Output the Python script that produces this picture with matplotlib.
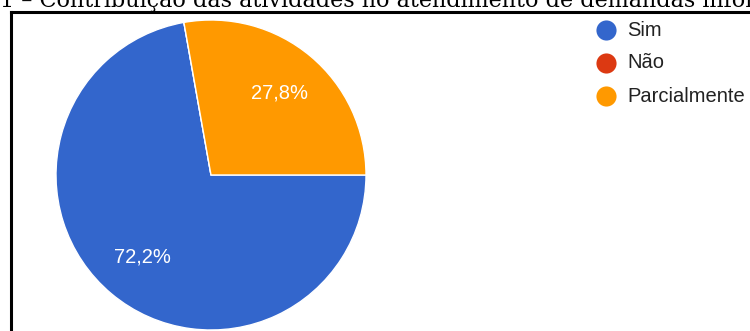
import matplotlib
matplotlib.use('Agg')
import matplotlib.pyplot as plt
from matplotlib.lines import Line2D

# dados do gráfico
categorias = ['Sim', 'Não', 'Parcialmente']
valores = [72.2, 0.0, 27.8]
cores = ['#3366cc', '#dc3912', '#ff9900']
titulo = '1 – Contribuição das atividades no atendimento de demandas informacionais'

plt.rcParams['font.family'] = ['Liberation Sans', 'DejaVu Sans']

fig = plt.figure(figsize=(7.5, 3.31), dpi=100)
W, H = 750, 331

# camada de fundo para moldura, título e legenda (coordenadas em pixels)
bg = fig.add_axes([0, 0, 1, 1])
bg.set_xlim(0, W)
bg.set_ylim(H, 0)
bg.axis('off')

# moldura preta (cortada à direita e embaixo)
bg.add_line(Line2D([11, 11], [H + 5, 11.5], color='black', lw=2.2))
bg.add_line(Line2D([11, W + 5], [11.5, 11.5], color='black', lw=2.2))

# título cortado no topo, como no original
bg.text(0, 6.5, titulo, family='DejaVu Serif', fontsize=16, color='black',
        ha='left', va='baseline')


# pizza
ax = fig.add_axes([56 / W, 1 - 330 / H, 310 / W, 310 / H])


def rotulo(p):
    if p < 0.05:
        return ''
    return f'{p:.1f}%'.replace('.', ',')


wedges, textos, autotextos = ax.pie(valores, colors=cores, startangle=0, counterclock=False,
                                    autopct=rotulo, pctdistance=0.69,
                                    wedgeprops=dict(edgecolor='white', linewidth=1),
                                    textprops=dict(color='white', fontsize=14.5))
ax.set_xlim(-1, 1)
ax.set_ylim(-1, 1)
ax.set_aspect('equal')

# legenda manual
ys = [30, 63, 96]
for cat, cor, y in zip(categorias, cores, ys):
    bg.plot([606], [y], marker='o', markersize=14.5, color=cor, markeredgewidth=0)
    bg.text(627, y, cat, fontsize=14.5, color='#222222', ha='left', va='center')

fig.savefig('out.png', dpi=100)
